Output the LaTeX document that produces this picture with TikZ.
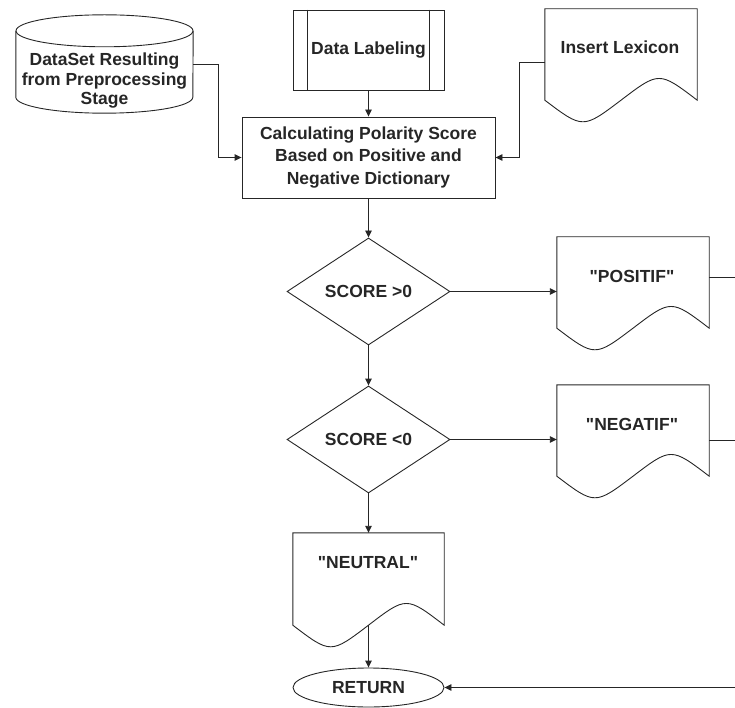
\documentclass[tikz,border=0pt]{standalone}
\usepackage{fontspec}
\newfontfamily\libsans{Liberation Sans}
\usetikzlibrary{shapes.geometric,arrows.meta,calc}
\newcommand\docwave[1]{%
  \draw[ln] (#1.north west) -- (#1.north east) -- ([yshift=16pt]#1.south east)
    .. controls ($(#1.south east)!0.25!(#1.south west)+(0pt,45pt)$) .. ([yshift=16pt]#1.south)
    .. controls ($(#1.south west)!0.25!(#1.south east)+(0pt,-12.8pt)$) .. ([yshift=16pt]#1.south west)
    -- cycle;}
\begin{document}
\begin{tikzpicture}[x=1pt,y=-1pt,
  ln/.style={draw=black!85,line width=0.9pt},
  arr/.style={ln,-{Triangle[length=7pt,width=6.5pt]}},
  txt/.style={font=\libsans\bfseries\fontsize{17.5}{22.5}\selectfont,text=black!85,align=center,inner sep=0pt},
  box/.style={rectangle,inner sep=0pt,minimum width=#1},
  dec/.style={ln,diamond,aspect=1.52,inner sep=0pt,minimum width=163pt,minimum height=107pt,txt}
]
\useasboundingbox (0,0) rectangle (735,708);

% cylinder
\node[box=177pt,minimum height=98pt] (cyl) at (104.5,64) {};
\draw[ln] ([yshift=-16pt]cyl.north) ellipse [x radius=88.5pt, y radius=16pt];
\draw[ln] ([yshift=-16pt]cyl.north west) -- ([yshift=16pt]cyl.south west)
  arc[start angle=180,end angle=360,x radius=88.5pt,y radius=16pt] -- ([yshift=-16pt]cyl.north east);
\node[txt,font=\libsans\bfseries\fontsize{17.5}{19.5}\selectfont] (cylT) at (104.5,81) {DataSet Resulting\\from Preprocessing\\Stage};

% data labeling
\node[ln,box=151pt,minimum height=80pt,txt] (dl) at (368.5,50) {Data Labeling};
\draw[ln] ([xshift=15pt]dl.north west) -- ([xshift=15pt]dl.south west);
\draw[ln] ([xshift=-15pt]dl.north east) -- ([xshift=-15pt]dl.south east);

% insert lexicon
\node[box=152pt,minimum height=107pt] (lex) at (621,62.5) {};
\docwave{lex}
\node[txt] (lexT) at (620,47) {Insert Lexicon};

% calculating
\node[ln,box=253pt,minimum height=81pt,txt] (calc) at (368.5,157.5) {Calculating Polarity Score\\Based on Positive and\\Negative Dictionary};

% diamonds
\node[dec] (d1) at (368.5,291.5) {SCORE >0};
\node[dec] (d2) at (368.5,439.5) {SCORE <0};

% positif
\node[box=152pt,minimum height=107pt] (pos) at (633,290.5) {};
\docwave{pos}
\node[txt] (posT) at (632,276) {"POSITIF"};

% negatif
\node[box=152pt,minimum height=107pt] (neg) at (633,438.5) {};
\docwave{neg}
\node[txt] (negT) at (632,424) {"NEGATIF"};

% neutral
\node[box=151pt,minimum height=108pt] (neu) at (368.5,587) {};
\docwave{neu}
\node[txt] (neuT) at (368,563) {"NEUTRAL"};

% return
\node[ln,ellipse,inner sep=0pt,minimum width=151pt,minimum height=39pt,txt] (ret) at (368.5,687.5) {RETURN};

% edge coordinates
\coordinate (posEdge) at (735,277);
\coordinate (negEdge) at (735,440);
\coordinate (retEdge) at (735,687.5);

% connectors
\draw[arr] (cyl.east) -- ++(25pt,0pt) |- (calc.west);
\draw[arr] (dl.south) -- (calc.north);
\draw[arr] (lex.west) -- ++(-25pt,0pt) |- (calc.east);
\draw[arr] (calc.south) -- (d1.north);
\draw[arr] (d1.east) -- (d1.east -| pos.west);
\draw[arr] (d1.south) -- (d2.north);
\draw[arr] (d2.east) -- (d2.east -| neg.west);
\draw[arr] (d2.south) -- (neu.north);
\draw[arr] ([yshift=16pt]neu.south) -- (ret.north);
\draw[ln] (posEdge -| pos.east) -- (posEdge);
\draw[ln] (negEdge -| neg.east) -- (negEdge);
\draw[arr] (retEdge) -- (ret.east);
\end{tikzpicture}
\end{document}
